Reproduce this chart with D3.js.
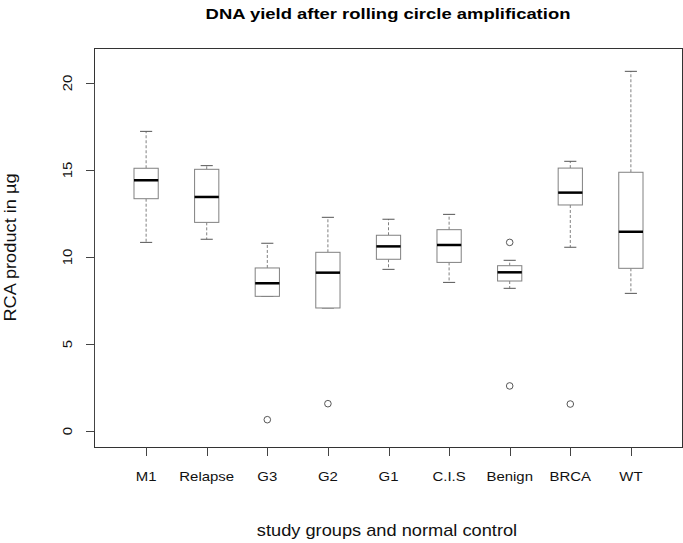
<!DOCTYPE html>
<html>
<head>
<meta charset="utf-8">
<script src="https://cdn.jsdelivr.net/npm/d3@7/dist/d3.min.js"></script>
<style>
  html, body { margin: 0; padding: 0; background: #fff; }
  svg { display: block; font-family: "Liberation Sans", Arial, sans-serif; }
</style>
</head>
<body>
<svg id="chart" width="683" height="543"></svg>
<script>
// Groups along the x axis
const groups = ["M1", "Relapse", "G3", "G2", "G1", "C.I.S", "Benign", "BRCA", "WT"];
// Five-number summaries per group (whisker low, Q1, median, Q3, whisker high)
const whiskerLow  = [10.84, 11.02, 7.74, 7.07, 9.29, 8.54, 8.20, 10.56, 7.91];
const q1          = [13.35, 11.99, 7.74, 7.07, 9.87, 9.69, 8.62, 12.99, 9.35];
const median      = [14.41, 13.45, 8.49, 9.10, 10.61, 10.69, 9.12, 13.70, 11.45];
const q3          = [15.10, 15.04, 9.37, 10.27, 11.25, 11.57, 9.50, 15.11, 14.87];
const whiskerHigh = [17.22, 15.25, 10.79, 12.28, 12.17, 12.45, 9.81, 15.50, 20.67];
// Outlying observations: [group, value]
const outliers = [["G3", 0.65], ["G2", 1.57], ["Benign", 10.84], ["Benign", 2.59], ["BRCA", 1.55]];
const yTicks = [0, 5, 10, 15, 20];

const svg = d3.select("#chart");
const plot = { left: 94, right: 682, top: 48, bottom: 447 };

const n = groups.length;
const x = d3.scaleLinear().domain([0.14, n + 0.86]).range([plot.left, plot.right + 1]);
const y = d3.scaleLinear().domain([0, 20]).range([431, 83]);
const boxW = x(1.4) - x(1);
const capW = boxW / 2;

// text helper: slightly widened glyphs, optional rotation
function label(parent, tx, ty, rot, stretch, size, str, weight) {
  return parent.append("text")
    .attr("transform", `translate(${tx},${ty}) rotate(${rot}) scale(${stretch},1)`)
    .attr("text-anchor", "middle")
    .attr("font-size", size)
    .attr("font-weight", weight || "normal")
    .attr("fill", "#111")
    .text(str);
}

// plot frame
svg.append("rect")
  .attr("x", plot.left + 0.5).attr("y", plot.top + 0.5)
  .attr("width", plot.right - plot.left).attr("height", plot.bottom - plot.top)
  .attr("fill", "none").attr("stroke", "#333").attr("stroke-width", 1);

const g = svg.append("g");
groups.forEach((name, i) => {
  const cx = x(i + 1);
  // dashed whiskers
  g.append("line").attr("x1", cx).attr("x2", cx)
    .attr("y1", y(q3[i])).attr("y2", y(whiskerHigh[i]))
    .attr("stroke", "#808080").attr("stroke-dasharray", "3,2");
  g.append("line").attr("x1", cx).attr("x2", cx)
    .attr("y1", y(q1[i])).attr("y2", y(whiskerLow[i]))
    .attr("stroke", "#808080").attr("stroke-dasharray", "3,2");
  // whisker caps
  [whiskerHigh[i], whiskerLow[i]].forEach(v => {
    g.append("line").attr("x1", cx - capW / 2).attr("x2", cx + capW / 2)
      .attr("y1", y(v)).attr("y2", y(v))
      .attr("stroke", "#555");
  });
  // box
  g.append("rect")
    .attr("x", cx - boxW / 2).attr("y", y(q3[i]))
    .attr("width", boxW).attr("height", y(q1[i]) - y(q3[i]))
    .attr("fill", "#fff").attr("stroke", "#808080").attr("stroke-width", 1);
  // median
  g.append("line").attr("x1", cx - boxW / 2).attr("x2", cx + boxW / 2)
    .attr("y1", y(median[i])).attr("y2", y(median[i]))
    .attr("stroke", "#000").attr("stroke-width", 2.5);
});

// outliers
g.selectAll("circle.out").data(outliers).join("circle")
  .attr("class", "out")
  .attr("cx", d => x(groups.indexOf(d[0]) + 1))
  .attr("cy", d => y(d[1]))
  .attr("r", 3.3)
  .attr("fill", "none").attr("stroke", "#444").attr("stroke-width", 0.9);

// y axis with rotated tick labels
const yAxis = svg.append("g").attr("transform", `translate(${plot.left},0)`);
yAxis.append("line").attr("x1", 0.5).attr("x2", 0.5)
  .attr("y1", y(0)).attr("y2", y(20)).attr("stroke", "#444");
yTicks.forEach(t => {
  yAxis.append("line").attr("x1", -8).attr("x2", 0.5)
    .attr("y1", Math.round(y(t)) + 0.5).attr("y2", Math.round(y(t)) + 0.5).attr("stroke", "#444");
  label(yAxis, -22, y(t), -90, 1.15, 13, t);
});

// x axis ticks and labels
const xAxis = svg.append("g").attr("transform", `translate(0,${plot.bottom})`);
groups.forEach((name, i) => {
  const cx = Math.round(x(i + 1)) + 0.5;
  xAxis.append("line").attr("x1", cx).attr("x2", cx)
    .attr("y1", 0.5).attr("y2", 9).attr("stroke", "#444");
  label(xAxis, x(i + 1), 33.5, 0, 1.15, 13, name);
});

// titles
label(svg, (plot.left + plot.right) / 2, 18.5, 0, 1.19, 15.5,
  "DNA yield after rolling circle amplification", "bold").attr("fill", "#000");
label(svg, (plot.left + plot.right) / 2 - 1, 536, 0, 1.14, 16, "study groups and normal control");
label(svg, 16, (plot.top + plot.bottom) / 2, -90, 1.14, 16, "RCA product in µg");
</script>
</body>
</html>
